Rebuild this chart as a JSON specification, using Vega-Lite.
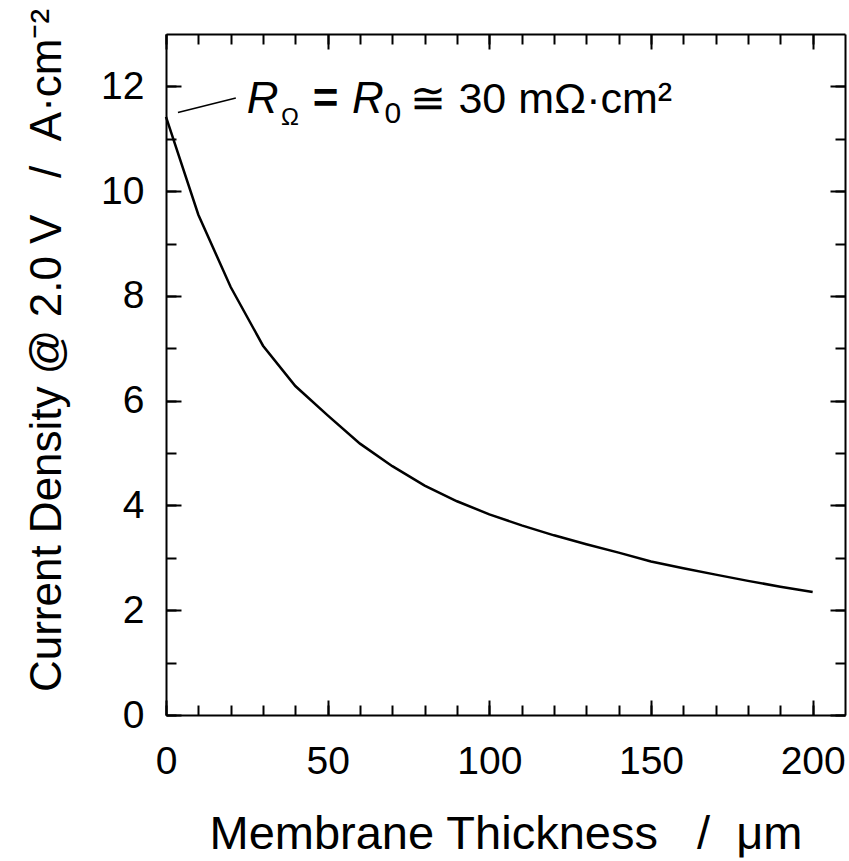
{
  "$schema": "https://vega.github.io/schema/vega-lite/v6.json",
  "width": 679,
  "height": 681,
  "autosize": {"type": "none"},
  "padding": {"left": 166, "top": 34, "right": 4, "bottom": 146},
  "background": "white",
  "config": {
    "view": {"stroke": null},
    "font": "Liberation Sans",
    "axis": {
      "labelFont": "Liberation Sans",
      "titleFont": "Liberation Sans",
      "labelColor": "black",
      "titleColor": "black",
      "domainColor": "black",
      "tickColor": "black",
      "domainWidth": 2,
      "tickWidth": 2,
      "grid": false,
      "titleFontWeight": "normal",
      "labelFlush": false,
      "labelOverlap": false
    }
  },
  "datasets": {
    "curve": [
      {"t": 0, "j": 11.42},
      {"t": 10, "j": 9.55},
      {"t": 20, "j": 8.17},
      {"t": 30, "j": 7.05},
      {"t": 40, "j": 6.28},
      {"t": 50, "j": 5.72},
      {"t": 60, "j": 5.18},
      {"t": 70, "j": 4.75},
      {"t": 80, "j": 4.38},
      {"t": 90, "j": 4.08},
      {"t": 100, "j": 3.83},
      {"t": 110, "j": 3.62},
      {"t": 120, "j": 3.43},
      {"t": 130, "j": 3.26},
      {"t": 140, "j": 3.1},
      {"t": 150, "j": 2.93},
      {"t": 160, "j": 2.8},
      {"t": 170, "j": 2.68},
      {"t": 180, "j": 2.56},
      {"t": 190, "j": 2.45},
      {"t": 200, "j": 2.35}
    ]
  },
  "resolve": {"axis": {"x": "independent", "y": "independent"}},
  "layer": [
    {
      "data": {"name": "curve"},
      "mark": {"type": "line", "color": "black", "strokeWidth": 2.5},
      "encoding": {
        "x": {"field": "t", "type": "quantitative", "scale": {"domain": [0, 210], "nice": false, "zero": false},
          "axis": {"orient": "bottom", "values": [0, 50, 100, 150, 200], "ticks": false, "labelPadding": 27, "labelFontSize": 39,
            "title": "Membrane Thickness\u00a0\u00a0\u00a0/\u00a0\u00a0μm", "titleFontSize": 47, "titlePadding": 30}},
        "y": {"field": "j", "type": "quantitative", "scale": {"domain": [0, 13], "nice": false, "zero": false},
          "axis": {"orient": "left", "values": [0, 2, 4, 6, 8, 10, 12], "ticks": false, "labelPadding": 22, "labelFontSize": 39,
            "title": "Current Density @ 2.0 V\u00a0\u00a0\u00a0/\u00a0\u00a0A·cm⁻²", "titleFontSize": 44, "titlePadding": 31, "titleY": 316}}
      }
    },
    {
      "data": {"values": [{"t": 3.7, "j": 11.5, "t2": 21.6, "j2": 11.78}]},
      "mark": {"type": "rule", "color": "black", "strokeWidth": 1.5},
      "encoding": {
        "x": {"field": "t", "type": "quantitative",
          "axis": {"orient": "bottom", "values": [0, 50, 100, 150, 200], "labels": false, "domain": false, "title": null, "tickSize": -15}},
        "y": {"field": "j", "type": "quantitative",
          "axis": {"orient": "left", "values": [0, 2, 4, 6, 8, 10, 12], "labels": false, "domain": false, "title": null, "tickSize": -15}},
        "x2": {"field": "t2"},
        "y2": {"field": "j2"}
      }
    },
    {
      "data": {"values": [{"t": 25.0, "j": 11.5}, {"t": 57.5, "j": 11.5}]},
      "mark": {"type": "text", "text": "R", "font": "Liberation Sans", "fontStyle": "italic", "fontSize": 44, "align": "left", "baseline": "alphabetic", "color": "black"},
      "encoding": {
        "x": {"field": "t", "type": "quantitative",
          "axis": {"orient": "bottom", "values": [0, 10, 20, 30, 40, 50, 60, 70, 80, 90, 100, 110, 120, 130, 140, 150, 160, 170, 180, 190, 200], "labels": false, "domain": false, "title": null, "tickSize": -10}},
        "y": {"field": "j", "type": "quantitative",
          "axis": {"orient": "left", "values": [0, 1, 2, 3, 4, 5, 6, 7, 8, 9, 10, 11, 12], "labels": false, "domain": false, "title": null, "tickSize": -10}}
      }
    },
    {
      "data": {"values": [{"t": 35.6, "j": 11.27}]},
      "mark": {"type": "text", "text": "Ω", "font": "Liberation Sans", "fontSize": 24, "align": "left", "baseline": "alphabetic", "color": "black"},
      "encoding": {
        "x": {"field": "t", "type": "quantitative",
          "axis": {"orient": "top", "values": [0, 50, 100, 150, 200], "labels": false, "domain": true, "title": null, "tickSize": -15}},
        "y": {"field": "j", "type": "quantitative",
          "axis": {"orient": "right", "values": [0, 2, 4, 6, 8, 10, 12], "labels": false, "domain": true, "title": null, "tickSize": -15}}
      }
    },
    {
      "data": {"values": [{"t": 67.6, "j": 11.3}]},
      "mark": {"type": "text", "text": "0", "font": "Liberation Sans", "fontSize": 30, "align": "left", "baseline": "alphabetic", "color": "black"},
      "encoding": {
        "x": {"field": "t", "type": "quantitative",
          "axis": {"orient": "top", "values": [0, 10, 20, 30, 40, 50, 60, 70, 80, 90, 100, 110, 120, 130, 140, 150, 160, 170, 180, 190, 200], "labels": false, "domain": false, "title": null, "tickSize": -10}},
        "y": {"field": "j", "type": "quantitative",
          "axis": {"orient": "right", "values": [0, 1, 2, 3, 4, 5, 6, 7, 8, 9, 10, 11, 12], "labels": false, "domain": false, "title": null, "tickSize": -10}}
      }
    },
    {
      "data": {"values": [{"t": 45.4, "j": 11.5}]},
      "mark": {"type": "text", "text": "=", "font": "Liberation Sans", "fontWeight": "bold", "fontSize": 44, "align": "left", "baseline": "alphabetic", "color": "black"},
      "encoding": {
        "x": {"field": "t", "type": "quantitative", "axis": null},
        "y": {"field": "j", "type": "quantitative", "axis": null}
      }
    },
    {
      "data": {"values": [{"t": 75.6, "j": 11.5}]},
      "mark": {"type": "text", "text": "≅ 30 mΩ·cm²", "font": "Liberation Sans", "fontSize": 43, "align": "left", "baseline": "alphabetic", "color": "black"},
      "encoding": {
        "x": {"field": "t", "type": "quantitative", "axis": null},
        "y": {"field": "j", "type": "quantitative", "axis": null}
      }
    }
  ]
}
